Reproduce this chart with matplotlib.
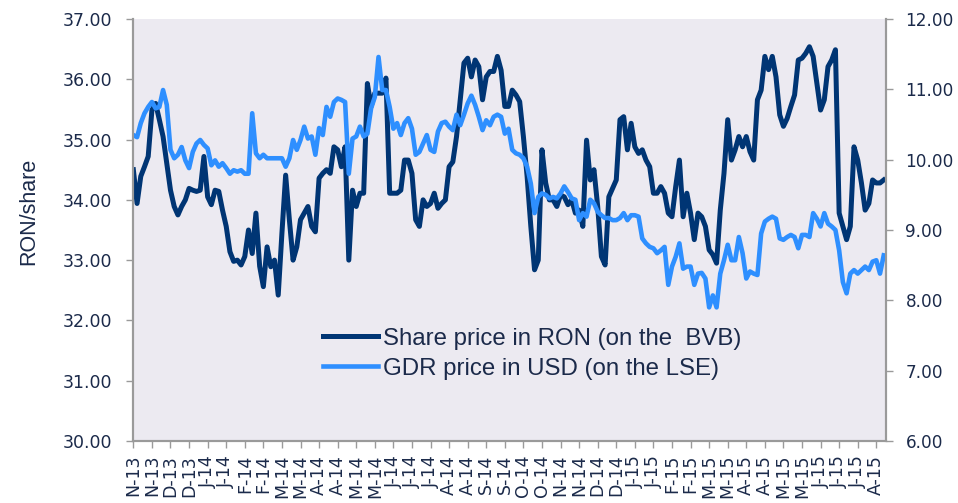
import numpy as np
import matplotlib.pyplot as plt

# share price on the BVB (RON), one value every 2 trading days
ron = [34.50, 33.94, 34.39, 34.55, 34.72, 35.49, 35.60, 35.33, 35.05, 34.61,
       34.16, 33.89, 33.75, 33.89, 34.00, 34.19, 34.16, 34.14, 34.16, 34.72,
       34.05, 33.92, 34.16, 34.14, 33.83, 33.56, 33.14, 32.98, 33.00, 32.92,
       33.06, 33.50, 33.11, 33.78, 32.90, 32.56, 33.22, 32.89, 33.00, 32.42,
       33.45, 34.41, 33.67, 33.00, 33.22, 33.67, 33.78, 33.89, 33.56, 33.47,
       34.36, 34.44, 34.50, 34.44, 34.88, 34.83, 34.55, 34.88, 33.00, 34.16,
       33.89, 34.11, 34.11, 35.93, 35.55, 35.77, 35.77, 35.77, 36.02, 34.11,
       34.11, 34.11, 34.16, 34.66, 34.66, 34.44, 33.67, 33.56, 34.00, 33.89,
       33.94, 34.11, 33.86, 33.94, 34.00, 34.55, 34.63, 35.05, 35.66, 36.27,
       36.35, 36.04, 36.32, 36.21, 35.66, 36.04, 36.13, 36.13, 36.38, 36.15,
       35.55, 35.55, 35.82, 35.74, 35.63, 35.05, 34.39, 33.56, 32.84, 33.00,
       34.83, 34.28, 34.00, 34.00, 33.89, 34.08, 34.05, 33.92, 34.00, 33.78,
       33.83, 33.56, 34.99, 34.33, 34.50, 33.89, 33.06, 32.92, 34.05, 34.19,
       34.33, 35.33, 35.38, 34.83, 35.27, 34.88, 34.77, 34.83, 34.66, 34.55,
       34.11, 34.11, 34.22, 34.11, 33.78, 33.72, 34.22, 34.66, 33.72, 34.11,
       33.78, 33.34, 33.78, 33.72, 33.56, 33.17, 33.09, 32.95, 33.83, 34.44,
       35.33, 34.66, 34.83, 35.05, 34.88, 35.05, 34.80, 34.66, 35.66, 35.82,
       36.38, 36.16, 36.38, 36.04, 35.41, 35.22, 35.35, 35.55, 35.74, 36.32,
       36.35, 36.43, 36.54, 36.38, 35.93, 35.49, 35.66, 36.21, 36.32, 36.49,
       33.78, 33.56, 33.34, 33.56, 34.88, 34.66, 34.28, 33.83, 33.94, 34.33,
       34.28, 34.28, 34.33]

# GDR price on the LSE (USD)
gdr = [10.35, 10.32, 10.52, 10.66, 10.75, 10.82, 10.73, 10.75, 10.99, 10.78,
       10.14, 10.02, 10.07, 10.18, 9.99, 9.88, 10.11, 10.23, 10.28, 10.21,
       10.16, 9.92, 9.99, 9.90, 9.95, 9.88, 9.80, 9.85, 9.83, 9.85,
       9.80, 9.80, 10.66, 10.09, 10.02, 10.07, 10.02, 10.02, 10.02, 10.02,
       10.02, 9.90, 10.02, 10.28, 10.14, 10.28, 10.47, 10.30, 10.33, 10.07,
       10.45, 10.35, 10.75, 10.61, 10.82, 10.87, 10.85, 10.82, 9.80, 10.30,
       10.33, 10.47, 10.33, 10.37, 10.73, 10.89, 11.46, 10.99, 10.99, 10.75,
       10.44, 10.52, 10.35, 10.52, 10.59, 10.44, 10.07, 10.11, 10.23, 10.35,
       10.14, 10.11, 10.40, 10.52, 10.54, 10.47, 10.42, 10.64, 10.49, 10.64,
       10.80, 10.91, 10.78, 10.61, 10.42, 10.56, 10.49, 10.61, 10.64, 10.61,
       10.37, 10.44, 10.14, 10.09, 10.07, 10.02, 9.90, 9.66, 9.24, 9.47,
       9.52, 9.50, 9.45, 9.47, 9.45, 9.52, 9.62, 9.54, 9.45, 9.43,
       9.14, 9.24, 9.19, 9.43, 9.38, 9.26, 9.21, 9.17, 9.17, 9.14,
       9.14, 9.17, 9.24, 9.14, 9.21, 9.21, 9.19, 8.88, 8.81, 8.76,
       8.74, 8.67, 8.71, 8.76, 8.22, 8.48, 8.62, 8.81, 8.45, 8.48,
       8.48, 8.22, 8.38, 8.39, 8.31, 7.90, 8.07, 7.90, 8.38, 8.57,
       8.79, 8.57, 8.57, 8.90, 8.67, 8.31, 8.41, 8.38, 8.36, 8.95,
       9.12, 9.16, 9.19, 9.16, 8.88, 8.86, 8.90, 8.93, 8.90, 8.74,
       8.93, 8.93, 8.90, 9.24, 9.16, 9.05, 9.24, 9.09, 9.05, 9.00,
       8.71, 8.26, 8.10, 8.38, 8.43, 8.38, 8.43, 8.48, 8.43, 8.55,
       8.57, 8.38, 8.64]

tick_labels = ['N-13', 'N-13', 'D-13', 'D-13',
               'J-14', 'J-14', 'F-14', 'F-14', 'M-14', 'M-14', 'A-14', 'A-14',
               'M-14', 'M-14', 'J-14', 'J-14', 'J-14', 'A-14', 'A-14', 'S-14',
               'S-14', 'O-14', 'O-14', 'N-14', 'N-14', 'D-14', 'D-14',
               'J-15', 'J-15', 'F-15', 'F-15', 'M-15', 'M-15', 'A-15', 'A-15',
               'M-15', 'M-15', 'J-15', 'J-15', 'J-15', 'A-15']
label_step = 5  # one label every 10 trading days

dark = '#003574'
light = '#2E8FFF'
txt = '#1B2A4A'
grey = '#9A9A9A'

x = np.arange(len(ron))

fig = plt.figure(figsize=(9.58, 5.03), dpi=100)
ax = fig.add_axes([0.1388, 0.1233, 0.7860, 0.8389])
ax.set_facecolor('#ECEAF1')
l1, = ax.plot(x, ron, color=dark, lw=3.6, solid_joinstyle='round',
              label='Share price in RON (on the  BVB)')
ax.set_ylim(30, 37)
ax.set_yticks(np.arange(30, 37.5, 1))
ax.set_yticklabels([f'{v:.2f}' for v in np.arange(30, 37.5, 1)])
ax.set_xlim(-0.1, 202.6)
ax.set_xticks(x[::label_step][:len(tick_labels)])
ax.set_xticklabels(tick_labels, rotation=90)
ax.set_ylabel('RON/share', fontsize=15.5, color=txt,
              family='Liberation Sans')
ax.yaxis.set_label_coords(-0.124, 0.543)
ax.tick_params(axis='y', labelsize=12.5, labelcolor=txt, color=grey,
               length=5, width=1, pad=10)
ax.tick_params(axis='x', labelsize=12.5, labelcolor=txt, color=grey,
               length=5, width=1, pad=5)

ax2 = ax.twinx()
l2, = ax2.plot(x, gdr, color=light, lw=3.3, solid_joinstyle='round',
               label='GDR price in USD (on the LSE)')
ax2.set_ylim(6, 12)
ax2.set_yticks(np.arange(6, 12.5, 1))
ax2.set_yticklabels([f'{v:.2f}' for v in np.arange(6, 12.5, 1)])
ax2.tick_params(axis='y', labelsize=12.2, labelcolor=txt, color=grey,
                length=5, width=1, pad=9)

for a in (ax, ax2):
    a.spines['top'].set_visible(False)
    for s in ('left', 'right', 'bottom'):
        a.spines[s].set_color(grey)
        a.spines[s].set_linewidth(1.5)

leg = ax2.legend(handles=[l1, l2], loc='upper left', bbox_to_anchor=(0.252, 0.268),
                 frameon=False, borderpad=0, borderaxespad=0, handlelength=2.3,
                 handletextpad=0.2, labelspacing=0.33,
                 prop={'family': 'Liberation Sans', 'size': 17.3})
for t in leg.get_texts():
    t.set_color(txt)

plt.savefig('out.png', dpi=100)
